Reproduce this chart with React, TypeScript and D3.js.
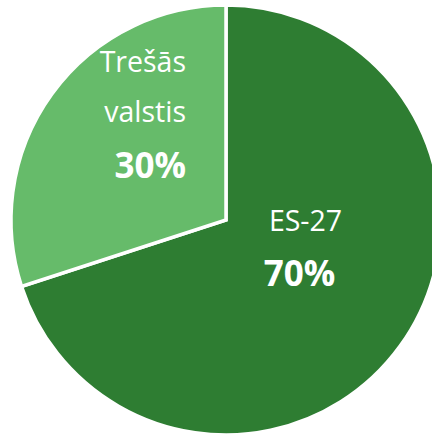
import React from "react";
import * as d3 from "d3";

const categories = ["ES-27", "Trešās valstis"];
const values = [70, 30];
const labelLines = [["ES-27"], ["Trešās", "valstis"]];
const colors = ["#2e7d32", "#66bb6a"];

const W = 432;
const H = 435;
const CX = 226;
const CY = 220;
const R = 215;

// label layout relative to pie centre (per slice)
const labelLayout = [
  { anchor: "middle", lines: [{ dx: 79.5, y: 230.7 }], pct: { dx: 73.5, y: 286 } },
  { anchor: "end", lines: [{ dx: -40, y: 72.3 }, { dx: -40, y: 122.3 }], pct: { dx: -40, y: 178.3 } },
];

export default function App() {
  const pie = d3.pie<number>().sort(null).startAngle(0).endAngle(2 * Math.PI)(values);
  const arc = d3.arc<d3.PieArcDatum<number>>().innerRadius(0).outerRadius(R);
  const total = d3.sum(values);
  const font = "'Open Sans', 'Noto Sans', sans-serif";
  return (
    <svg
      width={W}
      height={H}
      style={{ position: "absolute", left: 0, top: 0, background: "#fff" }}
    >
      <g transform={`translate(${CX},${CY})`}>
        {pie.map((d, i) => (
          <path
            key={categories[i]}
            d={arc(d) || ""}
            fill={colors[i]}
            stroke="#fff"
            strokeWidth={3.5}
            strokeLinejoin="miter"
          />
        ))}
      </g>
      {pie.map((d, i) => {
        const L = labelLayout[i];
        const pct = Math.round((d.value / total) * 100) + "%";
        return (
          <g key={"l" + i} fontFamily={font} fill="#fff" textAnchor={L.anchor}>
            {labelLines[i].map((t, j) => (
              <text key={j} x={CX + L.lines[j].dx} y={L.lines[j].y} fontSize={28.5}>
                {t}
              </text>
            ))}
            <text x={CX + L.pct.dx} y={L.pct.y} fontSize={35} fontWeight={700}>
              {pct}
            </text>
          </g>
        );
      })}
    </svg>
  );
}
